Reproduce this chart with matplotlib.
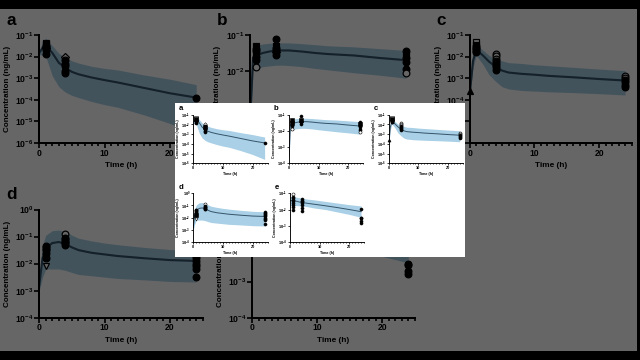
import math
import matplotlib.pyplot as plt
from matplotlib.patches import Rectangle
from matplotlib.ticker import FixedLocator, FuncFormatter, MultipleLocator, NullLocator

plt.rcParams['font.family'] = ['Liberation Sans', 'DejaVu Sans']
plt.rcParams['mathtext.fontset'] = 'custom'
plt.rcParams['mathtext.rm'] = 'Liberation Sans'
plt.rcParams['mathtext.bf'] = 'Liberation Sans:bold'

W_FIG, H_FIG = 640, 360

# model time grid (h), values are log10 concentration (ng/mL)
T_GRID = [0, 0.5, 1, 2, 3, 4, 5, 6, 8, 10, 12, 16, 20, 24]

a_median = [-1.83, -1.6, -1.5, -1.83, -2.29, -2.52, -2.71, -2.82, -2.97, -3.09, -3.2, -3.45, -3.7, -3.9]
a_upper = [-1.75, -1.3, -1.15, -1.5, -1.85, -2.05, -2.2, -2.3, -2.45, -2.55, -2.62, -2.85, -3.05, -3.3]
a_lower = [-1.9, -1.95, -2.0, -2.9, -3.4, -3.65, -3.8, -3.9, -4.08, -4.23, -4.35, -4.7, -5.1, -5.6]

b_median = [-3.6, -1.64, -1.57, -1.5, -1.46, -1.43, -1.43, -1.43, -1.46, -1.5, -1.53, -1.57, -1.64, -1.7]
b_upper = [-3.5, -1.35, -1.3, -1.25, -1.23, -1.22, -1.22, -1.22, -1.24, -1.27, -1.3, -1.33, -1.38, -1.43]
b_lower = [-3.7, -2.0, -1.95, -1.88, -1.86, -1.84, -1.84, -1.85, -1.88, -1.93, -1.97, -2.05, -2.12, -2.2]

c_median = [-3.7, -2.2, -1.7, -1.94, -2.24, -2.47, -2.65, -2.74, -2.8, -2.84, -2.89, -2.96, -3.04, -3.11]
c_upper = [-3.6, -1.9, -1.45, -1.7, -1.95, -2.1, -2.2, -2.28, -2.32, -2.38, -2.42, -2.5, -2.58, -2.65]
c_lower = [-3.8, -2.5, -1.95, -2.35, -2.85, -3.15, -3.4, -3.5, -3.57, -3.6, -3.63, -3.67, -3.72, -3.78]

d_median = [-2.8, -1.8, -1.42, -1.24, -1.2, -1.28, -1.4, -1.5, -1.6, -1.66, -1.72, -1.8, -1.87, -1.9]
d_upper = [-2.6, -1.3, -0.95, -0.78, -0.76, -0.82, -0.95, -1.06, -1.16, -1.24, -1.3, -1.4, -1.48, -1.52]
d_lower = [-3.0, -2.5, -2.2, -2.2, -2.2, -2.25, -2.33, -2.4, -2.45, -2.5, -2.55, -2.6, -2.66, -2.68]

e_median = [-1.45, -1.45, -1.45, -1.48, -1.53, -1.57, -1.59, -1.62, -1.67, -1.72, -1.77, -1.88, -2.0, -2.13]
e_upper = [-1.2, -1.2, -1.2, -1.23, -1.27, -1.3, -1.33, -1.36, -1.4, -1.45, -1.5, -1.6, -1.7, -1.78]
e_lower = [-1.74, -1.74, -1.74, -1.75, -1.77, -1.78, -1.8, -1.83, -1.9, -1.95, -2.0, -2.15, -2.3, -2.48]

# observed points: (time, log10 conc, marker, filled)
a_obs = [(1, -1.35, 's', False), (1, -1.42, 's', True), (1, -1.5, 'o', True), (1, -1.55, 'o', True),
         (1, -1.62, 'D', True), (1, -1.7, 'o', True), (1, -1.8, '^', True), (1, -1.9, 'o', True),
         (4, -2.0, 'D', False), (4, -2.15, 'o', True), (4, -2.25, 's', True), (4, -2.35, 'o', True),
         (4, -2.45, 'o', True), (4, -2.55, '^', True), (4, -2.65, 'o', True), (4, -2.75, 'o', True),
         (24, -3.9, 'o', True)]
b_obs = [(1, -1.3, 's', True), (1, -1.38, 'o', True), (1, -1.45, 'o', True), (1, -1.52, 's', True),
         (1, -1.6, 'o', True), (1, -1.7, 'o', True), (1, -1.8, '^', True), (1, -1.9, 'o', False),
         (4, -1.1, 'o', True), (4, -1.3, 's', True), (4, -1.36, 'o', True), (4, -1.42, 'o', True),
         (4, -1.48, 'D', True), (4, -1.55, 'o', True),
         (24, -1.45, 'o', True), (24, -1.55, 's', True), (24, -1.65, 'o', True), (24, -1.75, 'o', True),
         (24, -1.85, '^', True), (24, -1.95, 'o', True), (24, -2.05, 'o', False)]
c_obs = [(0, -3.6, '^', True),
         (1, -1.33, 's', False), (1, -1.45, 's', True), (1, -1.52, 'o', True), (1, -1.58, 'o', True),
         (1, -1.65, 'o', True), (1, -1.72, 'o', True), (1, -1.8, 'o', True),
         (4, -1.86, 'o', False), (4, -1.98, 'o', False), (4, -2.1, 'o', False), (4, -2.2, 'o', True),
         (4, -2.3, 'o', True), (4, -2.4, 'o', True), (4, -2.5, 'o', True), (4, -2.62, 'o', True),
         (24, -2.9, 'o', False), (24, -3.0, 'o', False), (24, -3.1, 'o', True), (24, -3.2, 'o', True),
         (24, -3.3, 'o', True), (24, -3.42, 'o', True)]
d_obs = [(1, -2.08, 'v', False), (1, -1.8, 'o', True), (1, -1.75, 's', True), (1, -1.6, 'o', True),
         (1, -1.5, 'o', True), (1, -1.45, 'o', True), (1, -1.4, 'o', True), (1, -1.35, 'o', True),
         (4, -0.9, 'o', False), (4, -1.05, 'o', True), (4, -1.1, 'o', True), (4, -1.15, 'o', True),
         (4, -1.2, 'o', True), (4, -1.25, 'o', True), (4, -1.3, 'o', True),
         (24, -1.5, 'o', True), (24, -1.6, 'o', True), (24, -1.7, 'o', True), (24, -1.8, 'o', True),
         (24, -1.9, 'o', True), (24, -2.0, 'o', True), (24, -2.1, 'o', True), (24, -2.2, 'o', True),
         (24, -2.5, 'o', True)]
e_obs = [(1, -1.04, 'o', False), (1, -1.2, 'o', True), (1, -1.3, 'o', True), (1, -1.4, 'o', True),
         (1, -1.5, 'o', True), (1, -1.6, 'o', True), (1, -1.7, 'o', True), (1, -1.85, 'o', True),
         (1, -2.0, 'o', True),
         (4, -1.35, 'o', True), (4, -1.45, 'o', True), (4, -1.5, 'o', True), (4, -1.6, 'o', True),
         (4, -1.75, 'o', True), (4, -1.9, 'o', True), (4, -2.1, 'o', True),
         (24, -1.95, 'o', True), (24, -2.5, 'o', True), (24, -2.55, 'o', True), (24, -2.7, 'o', True),
         (24, -2.8, 'o', True)]

# y decade range per panel (bottom, top)
a_decades = (-6, -1)
b_decades = (-4, -1)
c_decades = (-6, -1)
d_decades = (-4, 0)
e_decades = (-4, -1)

PANELS = [
    ("a", a_median, a_upper, a_lower, a_obs, a_decades),
    ("b", b_median, b_upper, b_lower, b_obs, b_decades),
    ("c", c_median, c_upper, c_lower, c_obs, c_decades),
    ("d", d_median, d_upper, d_lower, d_obs, d_decades),
    ("e", e_median, e_upper, e_lower, e_obs, e_decades),
]

# axes boxes in pixels of the small (centre) figure: left, top, right, bottom
AX_BOX = {
    "a": (193.3, 114.7, 267.6, 163.3),
    "b": (289.0, 114.7, 363.0, 163.3),
    "c": (389.0, 114.7, 462.5, 163.3),
    "d": (193.3, 193.3, 267.6, 242.0),
    "e": (290.0, 193.3, 364.0, 242.0),
}

BAND = '#a9d0e6'
LINE = '#35546a'


def add_rect(fig, x0, y0, w, h, color, alpha, z):
    fig.add_artist(Rectangle((x0 / W_FIG, 1 - (y0 + h) / H_FIG), w / W_FIG, h / H_FIG,
                             transform=fig.transFigure, facecolor=color, alpha=alpha,
                             edgecolor='none', zorder=z))


def decade_label(v, pos):
    return r'$\mathbf{10^{%d}}$' % round(math.log10(v))


def draw_figure(fig, X0, Y0, W, H, s, z):
    kx, ky = W / 290, H / 154

    def to_px(x, y):
        return X0 + (x - 175) * kx, Y0 + (y - 103) * ky

    add_rect(fig, X0, Y0, W, H, 'white', 1, z)
    for name, med, up, lo, obs, (ybot, ytop) in PANELS:
        left, top, right, bottom = AX_BOX[name]
        x0, y0 = to_px(left, top)
        x1, y1 = to_px(right, bottom)
        ax = fig.add_axes([x0 / W_FIG, 1 - y1 / H_FIG, (x1 - x0) / W_FIG, (y1 - y0) / H_FIG])
        ax.set_zorder(z)
        ax.patch.set_visible(False)

        ax.fill_between(T_GRID, [10 ** v for v in lo], [10 ** v for v in up],
                        color=BAND, lw=0)
        ax.plot(T_GRID, [10 ** v for v in med], color=LINE, lw=0.7 * s)
        for t, c, m, filled in obs:
            ax.plot(t, 10 ** c, marker=m, ls='none', ms=(2.2 if m != 'D' else 1.8) * s,
                    mfc='black' if filled else 'white', mec='black', mew=0.4 * s,
                    clip_on=False, zorder=3)

        ax.set_yscale('log')
        ax.set_ylim(10.0 ** ybot, 10.0 ** ytop)
        ax.set_xlim(0, 25)
        ax.yaxis.set_major_locator(FixedLocator([10.0 ** k for k in range(ybot, ytop + 1)]))
        ax.yaxis.set_minor_locator(NullLocator())
        ax.yaxis.set_major_formatter(FuncFormatter(decade_label))
        ax.xaxis.set_major_locator(FixedLocator([0, 10, 20]))
        ax.xaxis.set_minor_locator(MultipleLocator(1))
        for sp in ('top', 'right'):
            ax.spines[sp].set_visible(False)
        for sp in ('left', 'bottom'):
            ax.spines[sp].set_linewidth(0.65 * s)
        ax.tick_params(which='major', length=1.5 * s, width=0.55 * s, pad=0.4 * s,
                       labelsize=2.8 * s)
        ax.tick_params(which='minor', length=1.0 * s, width=0.55 * s)
        for lab in ax.get_xticklabels():
            lab.set_fontweight('bold')

        ax.set_xlabel("Time (h)", fontsize=2.7 * s, fontweight='bold')
        ax.set_ylabel("Concentration (ng/mL)", fontsize=2.6 * s, fontweight='bold')
        ax.xaxis.set_label_coords(0.5, -0.18)
        ax.yaxis.set_label_coords(-0.175, 0.5)

        lx, ly = to_px(left - 15, top - 4.7)
        fig.text(lx / W_FIG, 1 - ly / H_FIG, name, fontsize=5.6 * s, fontweight='bold',
                 va='baseline', ha='left', zorder=z)


fig = plt.figure(figsize=(6.4, 3.6), dpi=100, facecolor='black')

# enlarged, dimmed copy in the background
draw_figure(fig, -1, 9, 638, 342, 2.2, 1)
add_rect(fig, -1, 9, 638, 342, 'black', 0.6, 2)

# sharp copy in the centre
draw_figure(fig, 175, 103, 290, 154, 1.0, 3)

fig.savefig("out.png", dpi=100, facecolor='black')
